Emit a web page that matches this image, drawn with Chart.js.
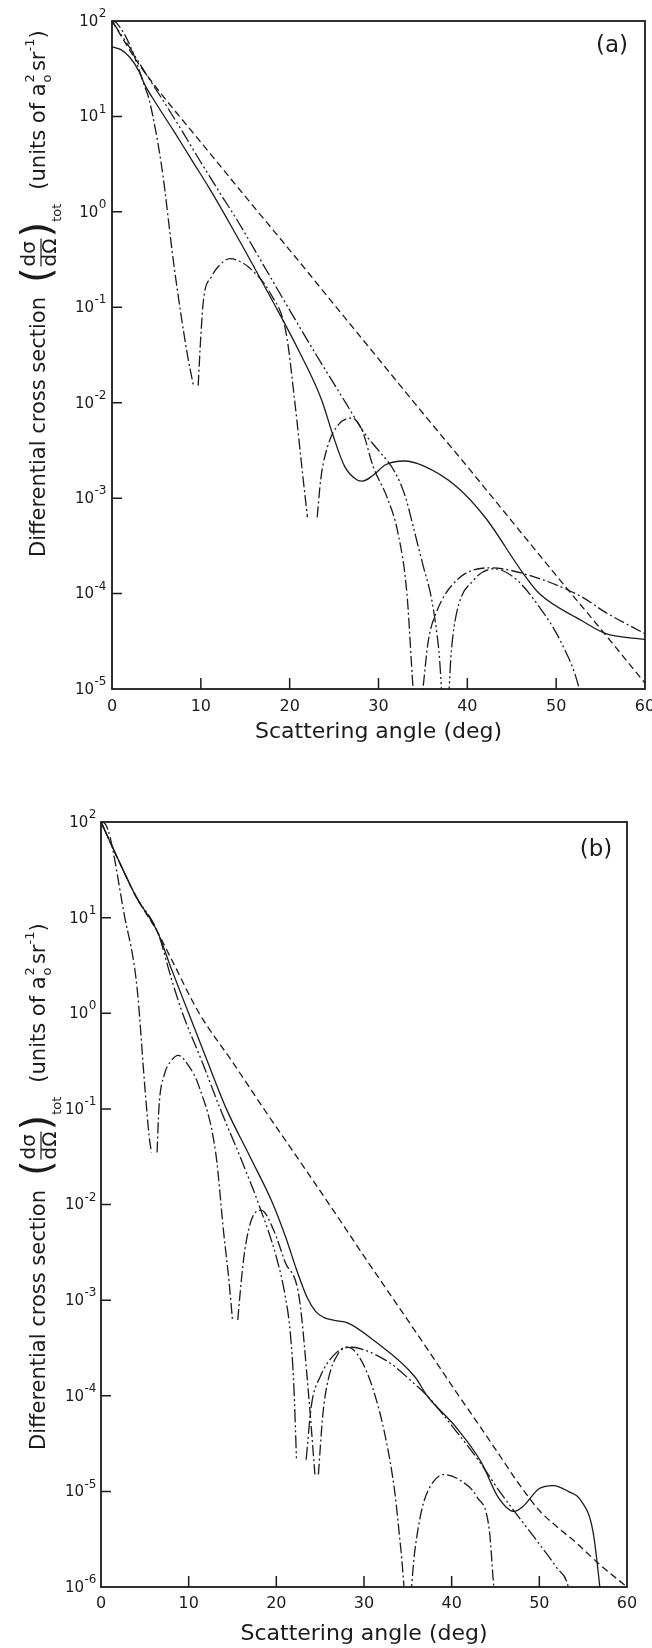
<!DOCTYPE html>
<html>
<head>
<meta charset="utf-8">
<script src="https://cdn.jsdelivr.net/npm/chart.js@4.4.0/dist/chart.umd.min.js"></script>
<style>
  body { margin: 0; background: #fff; }
  #wrap { position: relative; width: 652px; height: 1648px; }
  canvas { position: absolute; left: 0; }
</style>
</head>
<body>
<div id="wrap">
  <canvas id="panelA" width="652" height="760" style="top:0px"></canvas>
  <canvas id="panelB" width="652" height="878" style="top:770px"></canvas>
</div>
<script>
// ---- axis ticks ----
const angleTicks = [0, 10, 20, 30, 40, 50, 60];
const decadesA = [1e2, 1e1, 1e0, 1e-1, 1e-2, 1e-3, 1e-4, 1e-5];
const exponentsA = ['2', '1', '0', '-1', '-2', '-3', '-4', '-5'];
const decadesB = [1e2, 1e1, 1e0, 1e-1, 1e-2, 1e-3, 1e-4, 1e-5, 1e-6];
const exponentsB = ['2', '1', '0', '-1', '-2', '-3', '-4', '-5', '-6'];

// ---- panel (a) ----
const aDashedAng = [0, 3, 5, 7, 10, 15, 20, 25, 30, 35, 40, 45, 50, 55, 60];
const aDashedVal = [100, 35.5, 20, 11.7, 5.37, 1.45, 0.398, 0.107, 0.0288, 7.76e-3, 2.14e-3, 5.75e-4, 1.55e-4, 4.27e-5, 1.15e-5];

const aSolidAng = [0, 1, 2, 3, 3.7, 5, 7, 9, 11, 13, 15, 18, 21, 23.6, 24.8, 26.2, 27.6, 28.2, 29.4, 30.8, 32.9, 35, 38.8, 42, 46.3, 48.1, 52.8, 55.6, 60];
const aSolidVal = [53.7, 50.1, 41.7, 30.2, 21.4, 13.5, 6.92, 3.47, 1.74, 0.832, 0.389, 0.12, 0.0355, 0.0107, 4.79e-3, 2.14e-3, 1.55e-3, 1.51e-3, 1.74e-3, 2.24e-3, 2.45e-3, 2.19e-3, 1.32e-3, 6.31e-4, 1.62e-4, 1.0e-4, 5.25e-5, 3.8e-5, 3.31e-5];

const aSteepAng = [0, 2, 4, 6, 8, 10, 12, 14.3, 17, 20, 23, 26.3, 28.5, 30, 31.8, 33, 34.1, 35, 36, 36.8, 37.4, 37.7, 38.2, 38.8, 40.7, 43, 45.5, 48.1, 50.5, 52.6, 53];
const aSteepVal = [100, 52.5, 26.3, 13.5, 6.76, 3.31, 1.66, 0.759, 0.282, 0.0933, 0.0316, 0.01, 4.68e-3, 3.16e-3, 1.91e-3, 1.05e-3, 4.27e-4, 2.0e-4, 8.5e-5, 2.5e-5, 5e-6, 5e-6, 2.5e-5, 6.3e-5, 1.38e-4, 1.82e-4, 1.41e-4, 7.24e-5, 3.16e-5, 1.0e-5, 6.3e-6];

const aWavyAng = [0, 0.5, 2, 3.7, 4.2, 5.6, 7, 8.4, 9.2, 9.45, 9.7, 10.0, 10.3, 11.2, 12.2, 13.3, 14.4, 15.4, 17.8, 19.6, 20.6, 21.4, 22.0, 22.5, 23.1, 23.5, 24.3, 25.5, 27, 28.2, 29.4, 31, 32.2, 33.2, 33.9, 34.4, 35.0, 35.6, 36.5, 38.8, 42.5, 46.3, 52.8, 55.6, 60];
const aWavyVal = [100, 95.5, 56.2, 20.4, 14.8, 2.95, 0.263, 0.0355, 0.0145, null, 0.0151, 0.0501, 0.120, 0.209, 0.282, 0.324, 0.302, 0.263, 0.141, 0.0537, 9.77e-3, 2.0e-3, 6.31e-4, null, 6.31e-4, 1.58e-3, 3.55e-3, 5.89e-3, 6.92e-3, 5.01e-3, 2.14e-3, 1.0e-3, 4.27e-4, 1.0e-4, 1.0e-5, 3.16e-6, 1.0e-5, 3.16e-5, 6.31e-5, 1.38e-4, 1.86e-4, 1.62e-4, 9.33e-5, 6.31e-5, 3.8e-5];

// ---- panel (b) ----
const bDashedAng = [0, 2, 4, 6.5, 8, 11.2, 15, 18.8, 23, 27.3, 30, 33.5, 37, 40.5, 43, 45.3, 47.5, 50, 52, 54, 56.7, 60];
const bDashedVal = [100, 39.8, 16.6, 6.92, 3.72, 1.0, 0.309, 0.0933, 0.0257, 6.76e-3, 2.88e-3, 9.77e-4, 3.31e-4, 1.1e-4, 5.13e-5, 2.51e-5, 1.26e-5, 6.31e-6, 4.27e-6, 3.02e-6, 1.78e-6, 1.0e-6];

const bSolidAng = [0, 2, 4, 6.5, 8, 10, 12, 14.3, 17, 19.5, 21.1, 22.3, 23.5, 24.5, 25.4, 26.5, 28.2, 31.1, 35.8, 37.2, 40.5, 43.4, 45.3, 47.1, 48.1, 50, 51.6, 53.3, 54.7, 56.1, 56.9, 57.3];
const bSolidVal = [100, 39.8, 16.6, 6.92, 2.95, 1.0, 0.339, 0.1, 0.0316, 0.0107, 4.47e-3, 2.09e-3, 1.07e-3, 7.59e-4, 6.61e-4, 6.17e-4, 5.75e-4, 3.8e-4, 1.58e-4, 1.0e-4, 4.68e-5, 2.0e-5, 8.71e-6, 6.17e-6, 6.92e-6, 1.07e-5, 1.15e-5, 1.0e-5, 8.13e-6, 3.89e-6, 1.0e-6, 4e-7];

const bSteepAng = [0, 2, 4, 6.5, 8, 9.3, 11.5, 13.6, 16, 18, 20, 21, 21.6, 22.0, 22.3, 22.8, 23.4, 24, 25, 26.5, 28.2, 30, 33, 35.8, 37.2, 40.5, 43.4, 45.3, 47.5, 50, 52, 53.3, 53.8];
const bSteepVal = [100, 39.8, 16.6, 6.92, 2.34, 1.0, 0.316, 0.1, 0.0295, 0.01, 2.82e-3, 1.12e-3, 4.47e-4, 1.26e-4, 2.14e-5, null, 2.14e-5, 7.94e-5, 1.58e-4, 2.63e-4, 3.24e-4, 3.02e-4, 2.19e-4, 1.32e-4, 1.0e-4, 4.27e-5, 1.91e-5, 1.05e-5, 5.62e-6, 2.82e-6, 1.58e-6, 1.0e-6, 5e-7];

const bWavyAng = [0, 0.5, 2.7, 4.1, 5.0, 5.5, 5.75, 6.1, 6.4, 6.6, 7.2, 8, 8.8, 10, 11.2, 13.1, 14.0, 14.6, 15.0, 15.3, 15.6, 16.0, 16.4, 17.2, 18.3, 19.7, 21, 22.6, 23.7, 24.4, 24.6, 24.8, 25.3, 25.9, 27, 28.2, 29.5, 31, 32.5, 33.5, 34.2, 35, 35.8, 36.6, 37.5, 39.1, 41, 42.9, 44.3, 44.8, 45.2];
const bWavyVal = [100, 95, 10.2, 1.9, 0.17, 0.051, 0.035, null, 0.035, 0.1, 0.224, 0.316, 0.363, 0.282, 0.17, 0.0339, 5.0e-3, 1.58e-3, 6.2e-4, null, 6.2e-4, 1.58e-3, 3.31e-3, 7.08e-3, 8.7e-3, 5.37e-3, 2.5e-3, 1.07e-3, 9.8e-5, 1.5e-5, null, 1.5e-5, 6.3e-5, 1.45e-4, 2.7e-4, 3.2e-4, 2.5e-4, 1.2e-4, 3.5e-5, 1.0e-5, 2.5e-6, 5e-7, 2.4e-6, 6.5e-6, 1.1e-5, 1.5e-5, 1.3e-5, 8.7e-6, 3.9e-6, 1.0e-6, 4e-7];

const FONT = '"DejaVu Sans", "Liberation Sans", sans-serif';
const INK = '#1b1b1b';
const dashed = [7, 4];
const dashDot = [11, 3, 2, 3];
const dashDotDot = [13, 3, 2, 3, 2, 3];

function series(xs, ys, dash) {
  return {
    data: xs.map((v, i) => ({ x: v, y: ys[i] })),
    borderColor: INK,
    borderWidth: 1.3,
    borderDash: dash,
    pointRadius: 0,
    fill: false,
    spanGaps: false,
    cubicInterpolationMode: 'monotone'
  };
}

function drawYTitle(ctx, cx, yStart) {
  ctx.save();
  ctx.translate(cx, yStart);
  ctx.rotate(-Math.PI / 2);
  ctx.fillStyle = INK;
  ctx.strokeStyle = INK;
  ctx.textBaseline = 'middle';
  ctx.textAlign = 'left';
  let x = 0;
  const put = (txt, size, dy) => {
    ctx.font = size + 'px ' + FONT;
    ctx.fillText(txt, x, dy);
    x += ctx.measureText(txt).width;
  };
  put('Differential cross section', 21, 0);
  x += 14;
  put('(', 40, 0);
  x += 1;
  ctx.font = '20px ' + FONT;
  const w = Math.max(ctx.measureText('dσ').width, ctx.measureText('dΩ').width);
  ctx.fillText('dσ', x, -10);
  ctx.fillText('dΩ', x, 11);
  ctx.lineWidth = 1.2;
  ctx.beginPath();
  ctx.moveTo(x, 1);
  ctx.lineTo(x + w, 1);
  ctx.stroke();
  x += w + 1;
  put(')', 40, 0);
  put('tot', 13, 18);
  x += 14;
  put('(units of a', 21, 0);
  ctx.font = '13px ' + FONT;
  ctx.fillText('2', x + 1, -9);
  ctx.fillText('o', x + 1, 8);
  x += ctx.measureText('2').width + 4;
  put('sr', 21, 0);
  put('-1', 13, -9);
  put(')', 21, 0);
  ctx.restore();
}

const panelDecor = {
  id: 'panelDecor',
  afterDraw(chart, args, opts) {
    const { ctx, chartArea: a, scales } = chart;
    ctx.save();
    ctx.strokeStyle = INK;
    ctx.lineWidth = 1.8;
    ctx.setLineDash([]);
    ctx.strokeRect(a.left, a.top, a.right - a.left, a.bottom - a.top);
    ctx.lineWidth = 1.5;
    ctx.beginPath();
    angleTicks.slice(1, -1).forEach(v => {
      const px = scales.x.getPixelForValue(v);
      ctx.moveTo(px, a.bottom);
      ctx.lineTo(px, a.bottom - 11);
    });
    opts.decades.slice(1, -1).forEach(v => {
      const py = scales.y.getPixelForValue(v);
      ctx.moveTo(a.left, py);
      ctx.lineTo(a.left + 10, py);
    });
    ctx.stroke();

    // decade labels: "10" with a raised exponent
    ctx.fillStyle = INK;
    ctx.textBaseline = 'middle';
    ctx.textAlign = 'left';
    opts.decades.forEach((v, i) => {
      const py = scales.y.getPixelForValue(v);
      const exp = opts.exponents[i];
      ctx.font = '12px ' + FONT;
      const we = ctx.measureText(exp).width;
      ctx.font = '15px ' + FONT;
      const wb = ctx.measureText('10').width;
      const x0 = a.left - opts.labelGap - we - wb;
      ctx.fillText('10', x0, py + 1);
      ctx.font = '12px ' + FONT;
      ctx.fillText(exp, x0 + wb + 0.5, py - 7);
    });

    ctx.font = '23px ' + FONT;
    ctx.textAlign = 'center';
    ctx.fillText(opts.letter, opts.letterX, opts.letterY);
    ctx.restore();
    drawYTitle(ctx, opts.titleX, opts.titleStart);
  }
};

function makePanel(id, p) {
  const ctx = document.getElementById(id).getContext('2d');
  return new Chart(ctx, {
    type: 'line',
    data: { datasets: p.datasets },
    plugins: [panelDecor],
    options: {
      responsive: false,
      animation: false,
      events: [],
      layout: { padding: { left: 0, top: p.top, right: p.right, bottom: 0 } },
      plugins: {
        legend: { display: false },
        tooltip: { enabled: false },
        panelDecor: p.decor
      },
      scales: {
        x: {
          type: 'linear',
          min: 0,
          max: 60,
          afterBuildTicks: s => { s.ticks = angleTicks.map(v => ({ value: v })); },
          afterFit: s => { s.height = p.xHeight; s.paddingLeft = 0; s.paddingRight = 0; },
          grid: { display: false, drawTicks: false },
          border: { display: false },
          ticks: { color: INK, font: { family: FONT, size: 16 }, padding: p.xPad, maxRotation: 0, autoSkip: false },
          title: {
            display: true,
            text: 'Scattering angle (deg)',
            color: INK,
            font: { family: FONT, size: 22 },
            padding: { top: 0, bottom: p.titlePad }
          }
        },
        y: {
          type: 'logarithmic',
          min: p.decades[p.decades.length - 1],
          max: p.decades[0],
          afterBuildTicks: s => { s.ticks = p.decades.map(v => ({ value: v })); },
          afterFit: s => { s.width = p.yWidth; s.paddingTop = 0; s.paddingBottom = 0; },
          grid: { display: false, drawTicks: false },
          border: { display: false },
          ticks: { display: false }
        }
      }
    }
  });
}

makePanel('panelA', {
  datasets: [
    series(aDashedAng, aDashedVal, dashed),
    series(aSolidAng, aSolidVal, []),
    series(aSteepAng, aSteepVal, dashDotDot),
    series(aWavyAng, aWavyVal, dashDot)
  ],
  decades: decadesA,
  top: 21, right: 7, yWidth: 112, xHeight: 71, xPad: 8, titlePad: 15,
  decor: { decades: decadesA, exponents: exponentsA, labelGap: 6, letter: '(a)', letterX: 612, letterY: 46, titleX: 40, titleStart: 557 }
});

makePanel('panelB', {
  datasets: [
    series(bDashedAng, bDashedVal, dashed),
    series(bSolidAng, bSolidVal, []),
    series(bSteepAng, bSteepVal, dashDotDot),
    series(bWavyAng, bWavyVal, dashDot)
  ],
  decades: decadesB,
  top: 52, right: 25, yWidth: 101, xHeight: 61, xPad: 7, titlePad: 1,
  decor: { decades: decadesB, exponents: exponentsB, labelGap: 5, letter: '(b)', letterX: 596, letterY: 80, titleX: 40, titleStart: 680 }
});
</script>
</body>
</html>
